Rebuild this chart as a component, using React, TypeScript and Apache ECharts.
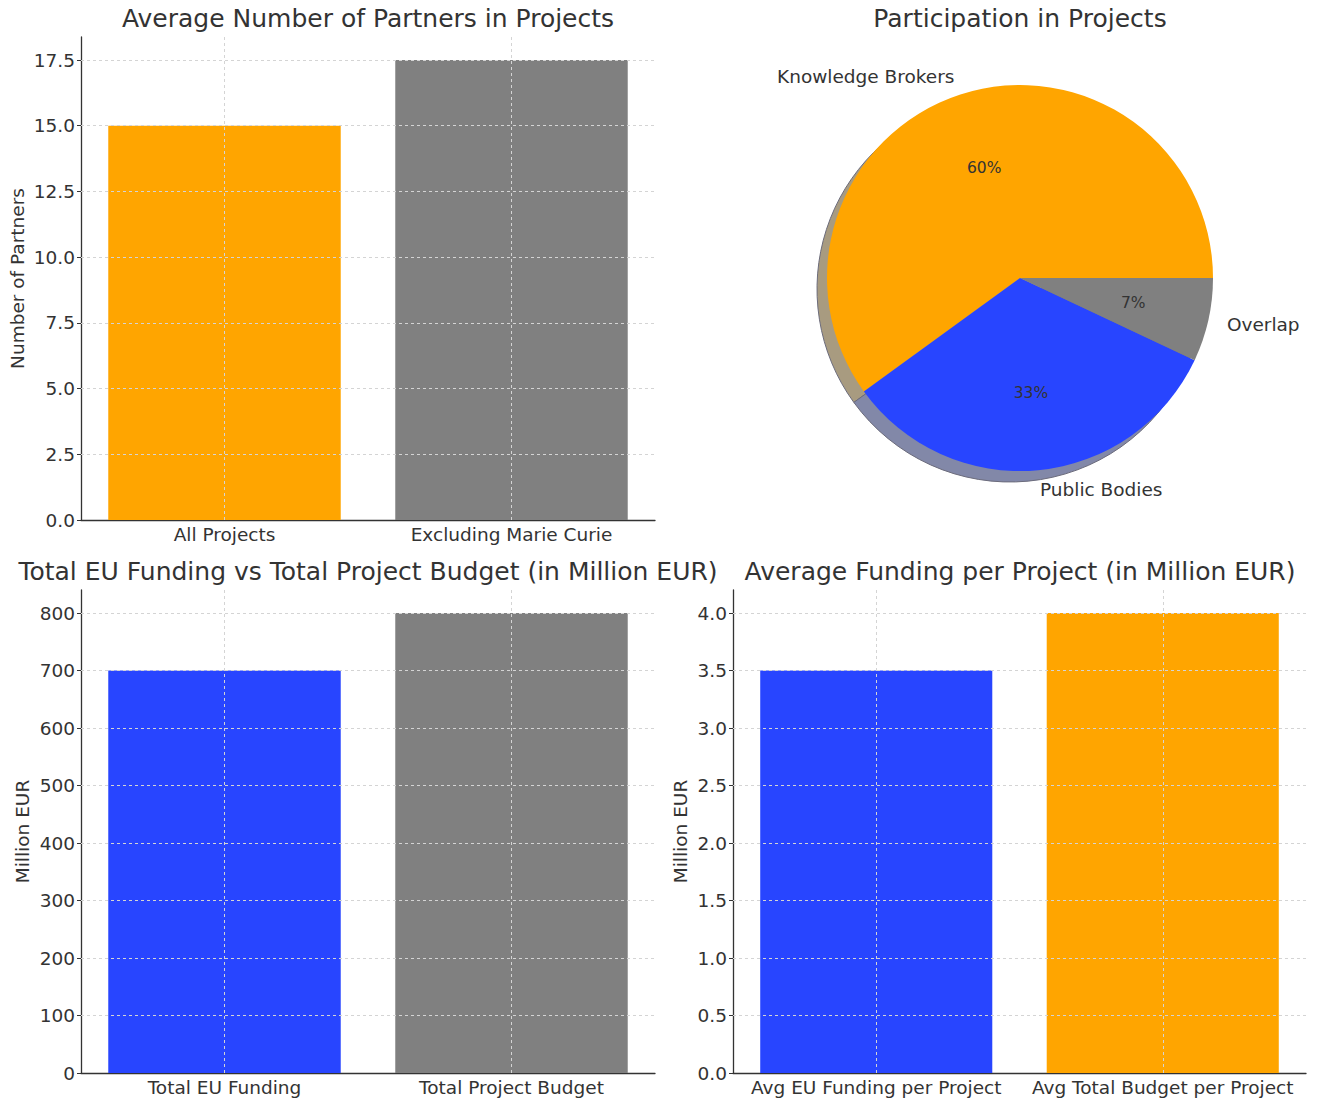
import React, { useEffect, useRef } from "react";
import * as echarts from "echarts";

// ---- data ----
const partnerCategories = ["All Projects", "Excluding Marie Curie"];
const partnerValues = [15, 17.5];
const partnerTicks = [0, 2.5, 5, 7.5, 10, 12.5, 15, 17.5];

const participationNames = ["Knowledge Brokers", "Public Bodies", "Overlap"];
const participationValues = [60, 33, 7];

const fundingCategories = ["Total EU Funding", "Total Project Budget"];
const fundingValues = [700, 800];
const fundingTicks = [0, 100, 200, 300, 400, 500, 600, 700, 800];

const avgCategories = ["Avg EU Funding per Project", "Avg Total Budget per Project"];
const avgValues = [3.5, 4.0];
const avgTicks = [0, 0.5, 1, 1.5, 2, 2.5, 3, 3.5, 4];

const titles = [
  "Average Number of Partners in Projects",
  "Participation in Projects",
  "Total EU Funding vs Total Project Budget (in Million EUR)",
  "Average Funding per Project (in Million EUR)",
];

// ---- styles ----
const ORANGE = "#FFA500";
const GRAY = "#808080";
const BLUE = "#2845FF";
const partnerColors = [ORANGE, GRAY];
const fundingColors = [BLUE, GRAY];
const avgColors = [BLUE, ORANGE];
const pieColors = [ORANGE, BLUE, GRAY];
const pieShadowColors = ["#a89b80", "#8288a8", "#7a7a80"];
const FONT = "DejaVu Sans";
const TEXT = "#333333";
const GRID = "#d4d4d4";
const LABEL_SIZE = 18.5;

function barBlock(
  idx: number,
  cats: string[],
  vals: number[],
  colors: string[],
  ticks: number[],
  yName: string,
  nameGap: number,
  decimals: number
) {
  const max = Math.max(...vals) * 1.05;
  const xAxis = {
    type: "category",
    gridIndex: idx,
    data: cats,
    axisLine: { show: true, lineStyle: { color: TEXT, width: 1.3 } },
    axisTick: { show: true, alignWithLabel: true, inside: true, length: 4, interval: 0, lineStyle: { color: TEXT } },
    axisLabel: {
      color: TEXT,
      fontSize: LABEL_SIZE,
      fontFamily: FONT,
      margin: 5,
      interval: 0,
      hideOverlap: false,
    },
    splitLine: { show: false },
  };
  const yAxis = {
    type: "value",
    gridIndex: idx,
    min: 0,
    max,
    name: yName,
    nameLocation: "middle",
    nameGap,
    nameTextStyle: { color: TEXT, fontSize: LABEL_SIZE, fontFamily: FONT },
    axisLine: { show: true, lineStyle: { color: TEXT, width: 1.3 } },
    axisTick: { show: true, length: 4, customValues: ticks, lineStyle: { color: TEXT } },
    axisLabel: {
      color: TEXT,
      fontSize: LABEL_SIZE,
      fontFamily: FONT,
      margin: 6,
      customValues: ticks,
      formatter: (v: number) => v.toFixed(decimals),
    },
    splitLine: { show: false },
  };
  const gridLines = ticks
    .filter((t) => t !== 0)
    .map((t) => ({ yAxis: t }))
    .concat(cats.map((c) => ({ xAxis: c })) as any);
  const series = {
    type: "bar",
    xAxisIndex: idx,
    yAxisIndex: idx,
    barWidth: "81%",
    data: vals.map((v, i) => ({ value: v, itemStyle: { color: colors[i] } })),
    markLine: {
      silent: true,
      symbol: "none",
      label: { show: false },
      lineStyle: { color: GRID, type: [3, 3], width: 1 },
      emphasis: { disabled: true },
      data: gridLines,
    },
  };
  return { xAxis, yAxis, series };
}

export default function App() {
  const ref = useRef<HTMLDivElement>(null);
  useEffect(() => {
    if (!ref.current) return;
    const chart = echarts.init(ref.current, undefined, { renderer: "svg" });

    const b1 = barBlock(0, partnerCategories, partnerValues, partnerColors, partnerTicks, "Number of Partners", 54, 1);
    const b3 = barBlock(1, fundingCategories, fundingValues, fundingColors, fundingTicks, "Million EUR", 49, 0);
    const b4 = barBlock(2, avgCategories, avgValues, avgColors, avgTicks, "Million EUR", 43, 1);

    const pieData = participationNames.map((n, i) => ({ name: n, value: participationValues[i] }));
    const pieCenter = [1020, 278];
    const R = 193;

    const titleText = (t: string, x: number, y: number) => ({
      type: "text",
      x,
      y,
      style: { text: t, fontSize: 25, fontFamily: FONT, fill: TEXT, align: "center", verticalAlign: "middle" },
    });

    chart.setOption({
      animation: false,
      backgroundColor: "#ffffff",
      textStyle: { fontFamily: FONT },
      grid: [
        { left: 81, top: 37, width: 574, height: 483 },
        { left: 81, top: 590, width: 574, height: 483 },
        { left: 733, top: 590, width: 573, height: 483 },
      ],
      xAxis: [b1.xAxis, b3.xAxis, b4.xAxis],
      yAxis: [b1.yAxis, b3.yAxis, b4.yAxis],
      series: [
        b1.series,
        b3.series,
        b4.series,
        {
          type: "pie",
          z: 1,
          silent: true,
          center: [pieCenter[0] - 10, pieCenter[1] + 11],
          radius: [0, R],
          startAngle: 0,
          clockwise: false,
          label: { show: false },
          labelLine: { show: false },
          emphasis: { disabled: true },
          data: pieData.map((d, i) => ({
            ...d,
            itemStyle: { color: pieShadowColors[i], borderColor: "#6c6c7c", borderWidth: 1 },
          })),
        },
        {
          type: "pie",
          z: 2,
          silent: true,
          center: pieCenter,
          radius: [0, R],
          startAngle: 0,
          clockwise: false,
          avoidLabelOverlap: false,
          label: {
            show: true,
            position: "outside",
            color: TEXT,
            fontSize: LABEL_SIZE,
            fontFamily: FONT,
            distanceToLabelLine: 0,
            formatter: "{b}",
          },
          labelLine: { show: false, length: 19, length2: 0 },
          emphasis: { disabled: true },
          itemStyle: { borderWidth: 0 },
          data: pieData.map((d, i) => ({ ...d, itemStyle: { color: pieColors[i] } })),
        },
        {
          type: "pie",
          z: 3,
          silent: true,
          center: pieCenter,
          radius: [0, 226],
          startAngle: 0,
          clockwise: false,
          avoidLabelOverlap: false,
          label: {
            show: true,
            position: "inside",
            color: TEXT,
            fontSize: 15.5,
            fontFamily: FONT,
            formatter: "{c}%",
          },
          labelLine: { show: false },
          emphasis: { disabled: true },
          itemStyle: { color: "rgba(0,0,0,0)", borderWidth: 0 },
          data: pieData,
        },
      ],
      graphic: [
        titleText(titles[0], 368, 18),
        titleText(titles[1], 1020, 18),
        titleText(titles[2], 368, 571),
        titleText(titles[3], 1020, 571),
      ],
    });
    return () => chart.dispose();
  }, []);
  return (
    <div
      ref={ref}
      style={{ position: "absolute", left: 0, top: 0, width: 1318, height: 1102, background: "#fff" }}
    />
  );
}
